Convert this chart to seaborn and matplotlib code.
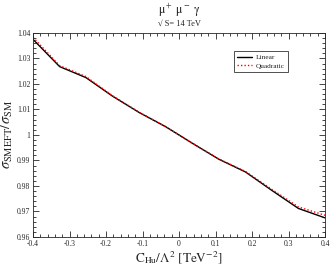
import numpy as np
import pandas as pd
import matplotlib
matplotlib.use('Agg')
import matplotlib.pyplot as plt
from matplotlib.ticker import MultipleLocator
import seaborn as sns

# Wilson coefficient scan points
c_hu = [-0.4, -0.327, -0.255, -0.182, -0.109, -0.036, 0.036, 0.109, 0.182, 0.255, 0.327, 0.4]
ratio_linear = [1.0375, 1.0268, 1.0225, 1.0152, 1.0088, 1.0032, 0.9968, 0.9905, 0.9855, 0.9782, 0.9712, 0.9675]
ratio_quadratic = [1.0383, 1.0272, 1.0229, 1.0154, 1.0089, 1.0032, 0.9968, 0.9906, 0.9857, 0.9786, 0.9718, 0.9685]

df = pd.DataFrame({
    'C': c_hu * 2,
    'ratio': ratio_linear + ratio_quadratic,
    'fit': ['Linear'] * len(c_hu) + ['Quadratic'] * len(c_hu),
})

sns.set_style('ticks')
plt.rcParams['font.family'] = ['Liberation Serif', 'DejaVu Serif']
plt.rcParams['mathtext.fontset'] = 'stix'

fig = plt.figure(figsize=(3.32, 2.68), dpi=100)
ax = fig.add_axes([0.0994, 0.1157, 0.8796, 0.7613])

sns.lineplot(data=df, x='C', y='ratio', hue='fit', style='fit',
             palette={'Linear': 'black', 'Quadratic': 'red'},
             dashes={'Linear': '', 'Quadratic': (1, 1.5)},
             linewidth=1.0, ax=ax)

ax.set_xlim(-0.4, 0.4)
ax.set_ylim(0.96, 1.04)
ax.xaxis.set_minor_locator(MultipleLocator(0.02))
ax.yaxis.set_minor_locator(MultipleLocator(0.002))
ax.set_xticks(np.arange(-0.4, 0.41, 0.1))
ax.set_xticklabels(['-0.4', '-0.3', '-0.2', '-0.1', '0', '0.1', '0.2', '0.3', '0.4'])
ax.set_yticks(np.arange(0.96, 1.0401, 0.01))
ax.set_yticklabels(['0.96', '0.97', '0.98', '0.99', '1', '1.01', '1.02', '1.03', '1.04'])
ax.tick_params(which='both', direction='in', top=True, right=True, labelsize=5.5, pad=2)
ax.tick_params(which='major', length=4, width=0.6)
ax.tick_params(which='minor', length=2, width=0.6)
for s in ax.spines.values():
    s.set_linewidth(0.6)

ax.set_xlabel(r'$\mathrm{C_{Hu}/\Lambda^2\ [TeV^{-2}]}$', fontsize=9.5, labelpad=1)
ax.set_ylabel(r'$\sigma_{\mathrm{SMEFT}}/\sigma_{\mathrm{SM}}$', fontsize=10.5)
ax.yaxis.set_label_coords(-0.06, 0.5)

fig.text(0.54, 0.96, r'$\mathrm{\mu^+\ \mu^-\ \gamma}$', ha='center', va='center', fontsize=8.5)
fig.text(0.54, 0.91, '√ S= 14 TeV', ha='center', va='center', fontsize=6)

leg = ax.legend(loc='upper right', bbox_to_anchor=(0.887, 0.931), fontsize=5.3,
                frameon=True, fancybox=False, edgecolor='black', handlelength=2.0,
                borderpad=0.45, labelspacing=0.3, handletextpad=0.6)
leg.get_frame().set_linewidth(0.6)

fig.savefig('out.png', dpi=100)
